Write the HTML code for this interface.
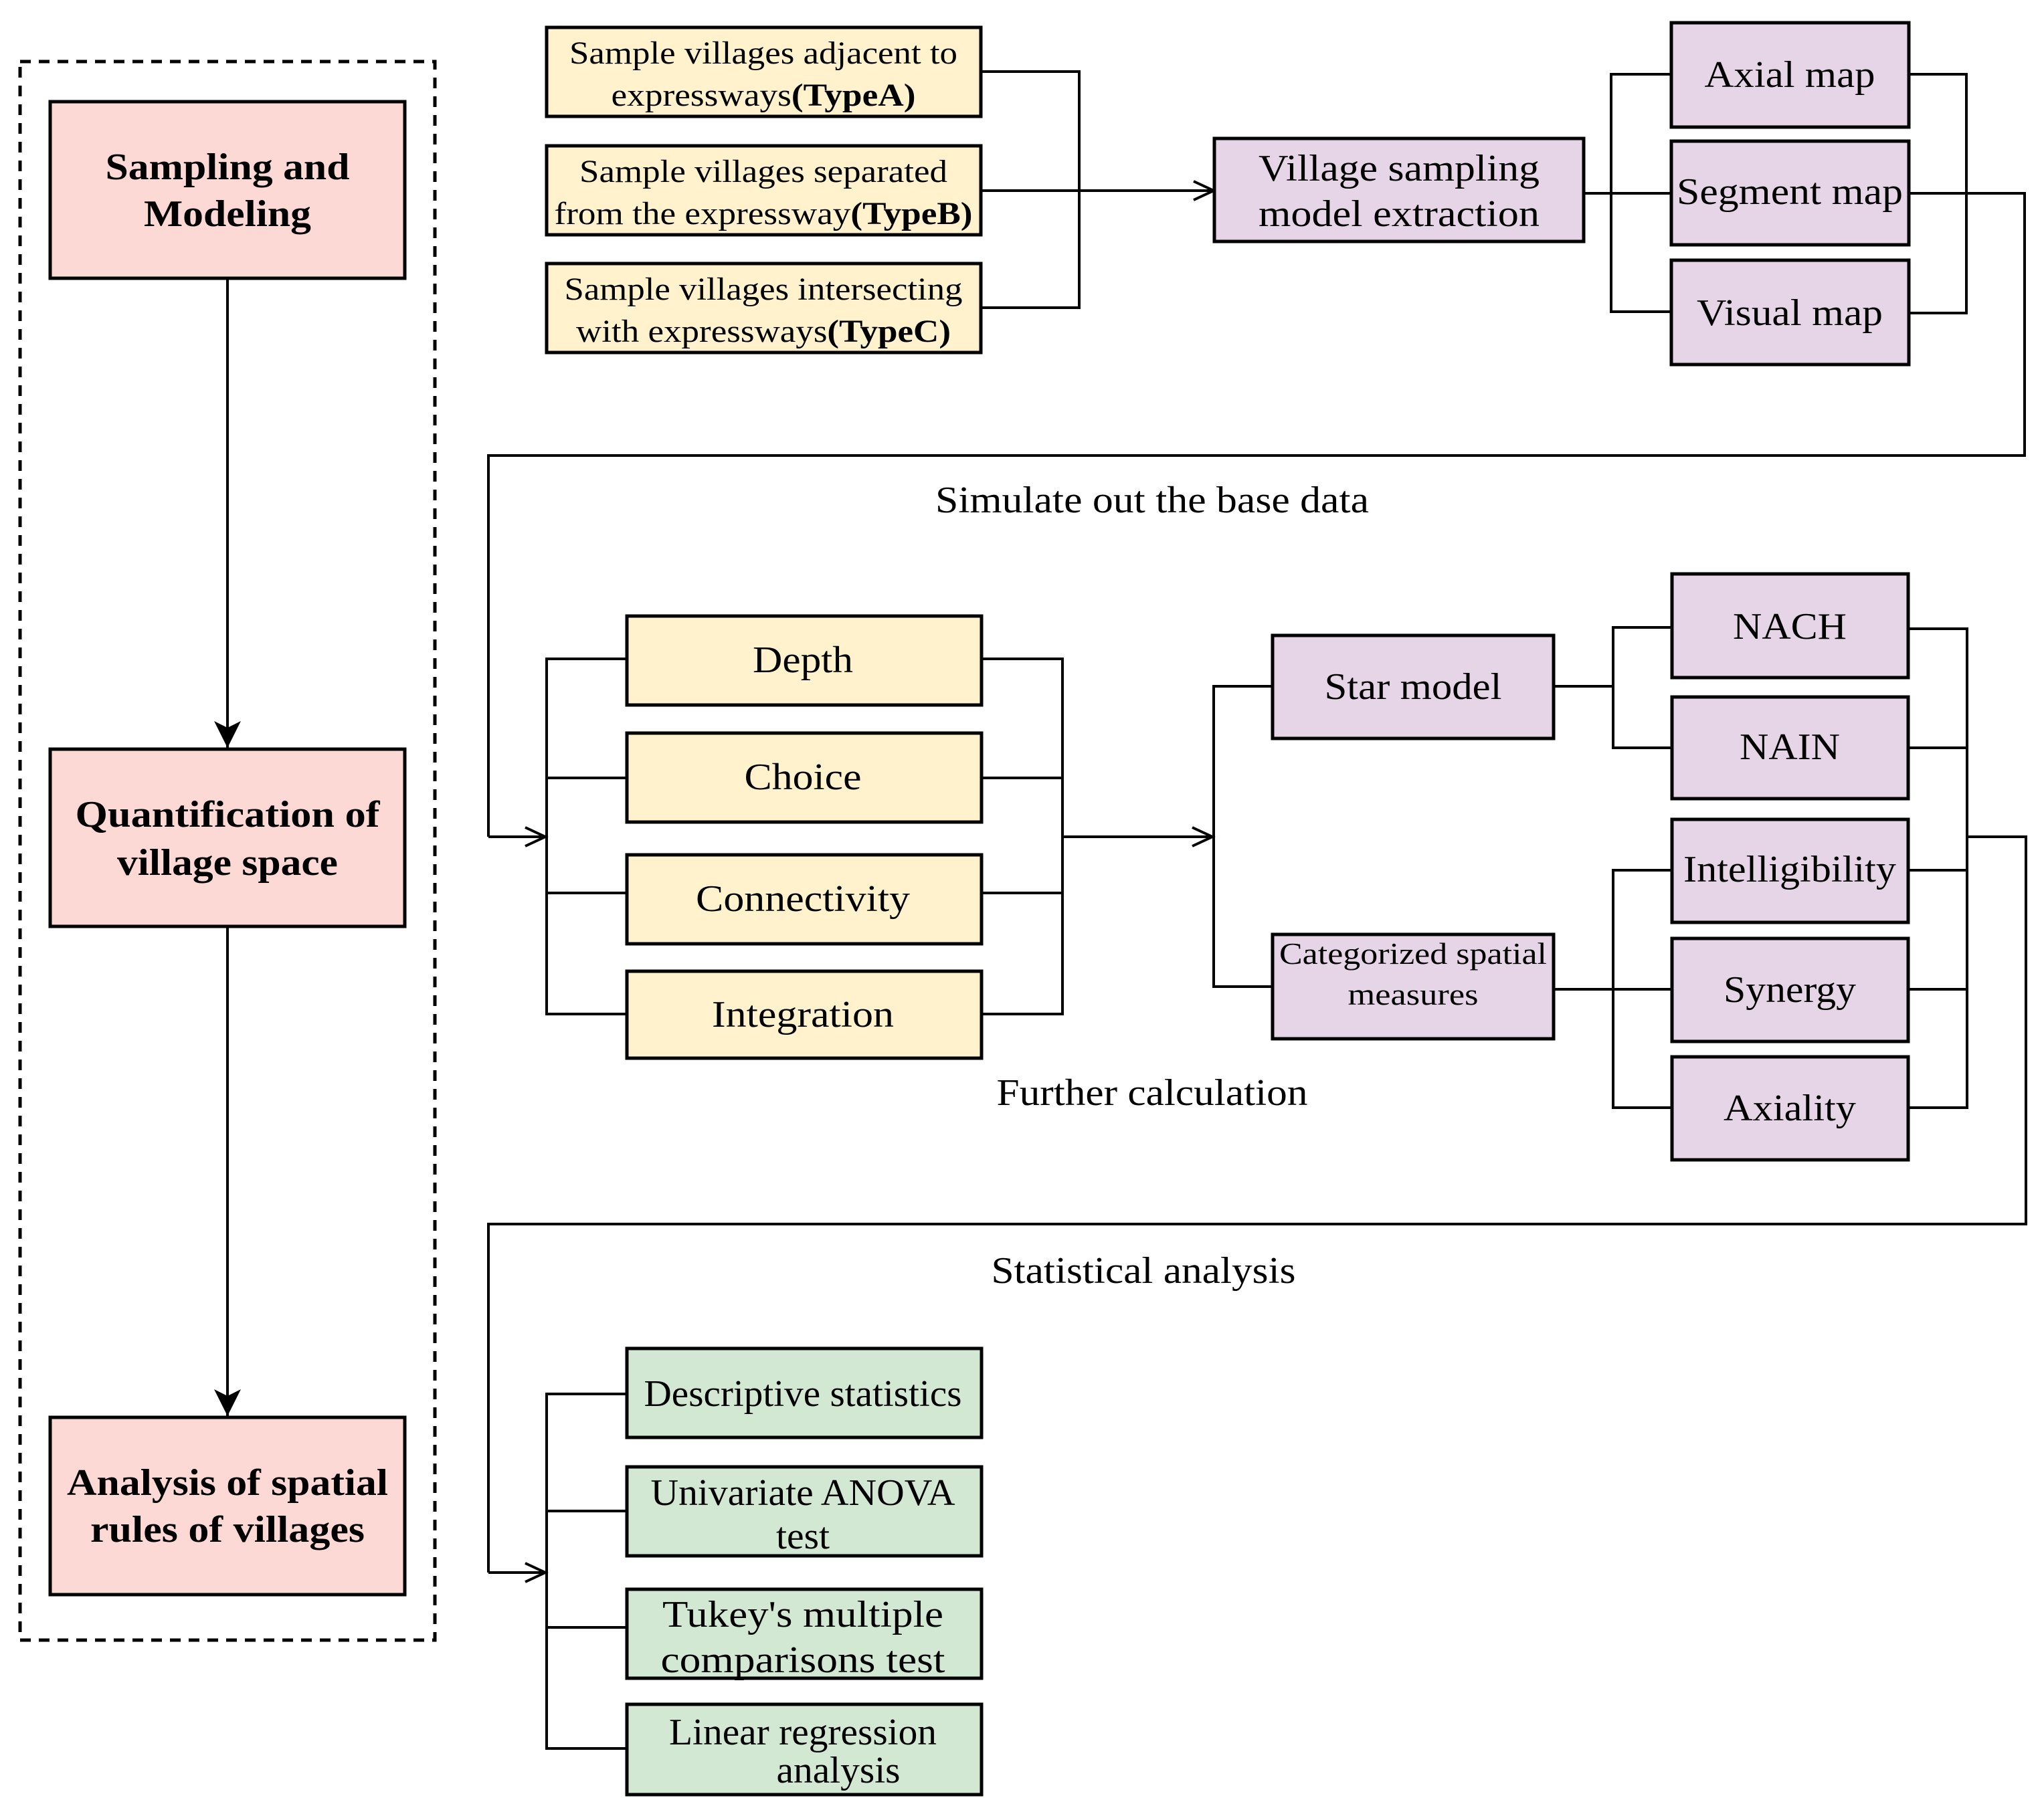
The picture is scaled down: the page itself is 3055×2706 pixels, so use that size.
<!DOCTYPE html>
<html><head><meta charset="utf-8"><style>html,body{margin:0;padding:0;background:#fff}svg{display:block}</style></head>
<body>
<svg width="3055" height="2706" viewBox="0 0 3055 2706" xmlns="http://www.w3.org/2000/svg" font-family="Liberation Serif, serif">
<defs>
<marker id="op" markerWidth="40" markerHeight="40" refX="34" refY="16" orient="auto" markerUnits="userSpaceOnUse"><path d="M4,2 L34,16 L4,30" fill="none" stroke="#000" stroke-width="4"/></marker>
<marker id="fi" markerWidth="50" markerHeight="50" refX="40" refY="20" orient="auto" markerUnits="userSpaceOnUse"><path d="M0,0 L40,20 L0,40 L10,20 Z" fill="#000"/></marker>
</defs>
<g fill="none" stroke="#000" stroke-width="4">
<rect x="30" y="92" width="620" height="2360" stroke-dasharray="16,12" stroke-width="5"/>
<line x1="340" y1="416" x2="340" y2="1118" marker-end="url(#fi)"/>
<line x1="340" y1="1385" x2="340" y2="2117" marker-end="url(#fi)"/>
<polyline points="1467,107 1613,107 1613,460 1467,460"/>
<line x1="1467" y1="285" x2="1814" y2="285" marker-end="url(#op)"/>
<line x1="2368" y1="289" x2="2500" y2="289"/>
<polyline points="2498,111 2408,111 2408,466 2498,466"/>
<polyline points="2853,111 2939,111 2939,468 2853,468"/>
<polyline points="2853,289 3026,289 3026,681 730,681 730,1251"/>
<line x1="730" y1="1251" x2="815" y2="1251" marker-end="url(#op)"/>
<polyline points="937,985 817,985 817,1516 937,1516"/>
<line x1="817" y1="1163" x2="937" y2="1163"/><line x1="817" y1="1335" x2="937" y2="1335"/>
<polyline points="1467,985 1588,985 1588,1516 1467,1516"/>
<line x1="1467" y1="1163" x2="1588" y2="1163"/><line x1="1467" y1="1335" x2="1588" y2="1335"/>
<line x1="1588" y1="1251" x2="1812" y2="1251" marker-end="url(#op)"/>
<polyline points="1902,1026 1814,1026 1814,1475 1902,1475"/>
<line x1="2322" y1="1026" x2="2411" y2="1026"/>
<polyline points="2499,938 2411,938 2411,1118 2499,1118"/>
<line x1="2322" y1="1479" x2="2499" y2="1479"/>
<polyline points="2499,1301 2411,1301 2411,1656 2499,1656"/>
<polyline points="2852,940 2940,940 2940,1656 2852,1656"/>
<line x1="2852" y1="1118" x2="2940" y2="1118"/><line x1="2852" y1="1301" x2="2940" y2="1301"/><line x1="2852" y1="1479" x2="2940" y2="1479"/>
<polyline points="2940,1251 3028,1251 3028,1830 730,1830 730,2351"/>
<line x1="730" y1="2351" x2="815" y2="2351" marker-end="url(#op)"/>
<polyline points="937,2084 817,2084 817,2614 937,2614"/>
<line x1="817" y1="2259" x2="937" y2="2259"/><line x1="817" y1="2433" x2="937" y2="2433"/>
</g>
<g stroke="#000" stroke-width="5">
<rect x="75" y="152" width="530" height="264" fill="#fdd9d5"/>
<rect x="75" y="1120" width="530" height="265" fill="#fdd9d5"/>
<rect x="75" y="2119" width="530" height="265" fill="#fdd9d5"/>
<rect x="817" y="41" width="649" height="133" fill="#fff2cc"/>
<rect x="817" y="218" width="649" height="133" fill="#fff2cc"/>
<rect x="817" y="394" width="649" height="133" fill="#fff2cc"/>
<rect x="1815" y="207" width="552" height="154" fill="#e6d5e7"/>
<rect x="2498" y="34" width="355" height="156" fill="#e6d5e7"/>
<rect x="2498" y="211" width="355" height="155" fill="#e6d5e7"/>
<rect x="2498" y="389" width="355" height="156" fill="#e6d5e7"/>
<rect x="937" y="921" width="530" height="133" fill="#fff2cc"/>
<rect x="937" y="1096" width="530" height="133" fill="#fff2cc"/>
<rect x="937" y="1278" width="530" height="133" fill="#fff2cc"/>
<rect x="937" y="1452" width="530" height="130" fill="#fff2cc"/>
<rect x="1902" y="950" width="420" height="154" fill="#e6d5e7"/>
<rect x="1902" y="1397" width="420" height="156" fill="#e6d5e7"/>
<rect x="2499" y="858" width="353" height="155" fill="#e6d5e7"/>
<rect x="2499" y="1042" width="353" height="152" fill="#e6d5e7"/>
<rect x="2499" y="1225" width="353" height="154" fill="#e6d5e7"/>
<rect x="2499" y="1403" width="353" height="154" fill="#e6d5e7"/>
<rect x="2499" y="1580" width="353" height="154" fill="#e6d5e7"/>
<rect x="937" y="2016" width="530" height="133" fill="#d2e8d3"/>
<rect x="937" y="2193" width="530" height="133" fill="#d2e8d3"/>
<rect x="937" y="2376" width="530" height="133" fill="#d2e8d3"/>
<rect x="937" y="2548" width="530" height="135" fill="#d2e8d3"/>
</g>
<g fill="#000" text-anchor="middle" font-size="56">
<g font-weight="bold">
<text x="340" y="268" textLength="365" lengthAdjust="spacingAndGlyphs">Sampling and</text>
<text x="340" y="338" textLength="250" lengthAdjust="spacingAndGlyphs">Modeling</text>
<text x="340" y="1236" textLength="455" lengthAdjust="spacingAndGlyphs">Quantification of</text>
<text x="340" y="1308" textLength="330" lengthAdjust="spacingAndGlyphs">village space</text>
<text x="340" y="2235" textLength="480" lengthAdjust="spacingAndGlyphs">Analysis of spatial</text>
<text x="340" y="2305" textLength="410" lengthAdjust="spacingAndGlyphs">rules of villages</text>
</g>
<g font-size="48">
<text x="1141" y="95" textLength="580" lengthAdjust="spacingAndGlyphs">Sample villages adjacent to</text>
<text x="1141" y="158" textLength="455" lengthAdjust="spacingAndGlyphs">expressways<tspan font-weight="bold">(TypeA)</tspan></text>
<text x="1141" y="272" textLength="550" lengthAdjust="spacingAndGlyphs">Sample villages separated</text>
<text x="1141" y="335" textLength="625" lengthAdjust="spacingAndGlyphs">from the expressway<tspan font-weight="bold">(TypeB)</tspan></text>
<text x="1141" y="448" textLength="595" lengthAdjust="spacingAndGlyphs">Sample villages intersecting</text>
<text x="1141" y="511" textLength="560" lengthAdjust="spacingAndGlyphs">with expressways<tspan font-weight="bold">(TypeC)</tspan></text>
</g>
<text x="2091" y="270" textLength="420" lengthAdjust="spacingAndGlyphs">Village sampling</text>
<text x="2091" y="338" textLength="420" lengthAdjust="spacingAndGlyphs">model extraction</text>
<text x="2675" y="130" textLength="255" lengthAdjust="spacingAndGlyphs">Axial map</text>
<text x="2675" y="305" textLength="338" lengthAdjust="spacingAndGlyphs">Segment map</text>
<text x="2675" y="486" textLength="278" lengthAdjust="spacingAndGlyphs">Visual map</text>
<text x="1722" y="766" textLength="648" lengthAdjust="spacingAndGlyphs">Simulate out the base data</text>
<text x="1200" y="1005" textLength="150" lengthAdjust="spacingAndGlyphs">Depth</text>
<text x="1200" y="1180" textLength="175" lengthAdjust="spacingAndGlyphs">Choice</text>
<text x="1200" y="1362" textLength="320" lengthAdjust="spacingAndGlyphs">Connectivity</text>
<text x="1200" y="1535" textLength="272" lengthAdjust="spacingAndGlyphs">Integration</text>
<text x="2112" y="1045" textLength="265" lengthAdjust="spacingAndGlyphs">Star model</text>
<text x="2112" y="1441" font-size="46" textLength="400" lengthAdjust="spacingAndGlyphs">Categorized spatial</text>
<text x="2112" y="1502" font-size="46" textLength="195" lengthAdjust="spacingAndGlyphs">measures</text>
<text x="2675" y="955" textLength="170" lengthAdjust="spacingAndGlyphs">NACH</text>
<text x="2675" y="1135" textLength="150" lengthAdjust="spacingAndGlyphs">NAIN</text>
<text x="2675" y="1318" textLength="318" lengthAdjust="spacingAndGlyphs">Intelligibility</text>
<text x="2675" y="1498" textLength="198" lengthAdjust="spacingAndGlyphs">Synergy</text>
<text x="2675" y="1675" textLength="198" lengthAdjust="spacingAndGlyphs">Axiality</text>
<text x="1722" y="1652" textLength="465" lengthAdjust="spacingAndGlyphs">Further calculation</text>
<text x="1709" y="1918" textLength="455" lengthAdjust="spacingAndGlyphs">Statistical analysis</text>
<text x="1200" y="2102" textLength="475" lengthAdjust="spacingAndGlyphs">Descriptive statistics</text>
<text x="1200" y="2250" textLength="455" lengthAdjust="spacingAndGlyphs">Univariate ANOVA</text>
<text x="1200" y="2315" textLength="80" lengthAdjust="spacingAndGlyphs">test</text>
<text x="1200" y="2432" textLength="420" lengthAdjust="spacingAndGlyphs">Tukey's multiple</text>
<text x="1200" y="2500" textLength="425" lengthAdjust="spacingAndGlyphs">comparisons test</text>
<text x="1200" y="2608" textLength="400" lengthAdjust="spacingAndGlyphs">Linear regression</text>
<text x="1253" y="2665" textLength="185" lengthAdjust="spacingAndGlyphs">analysis</text>
</g>
</svg>
</body></html>
